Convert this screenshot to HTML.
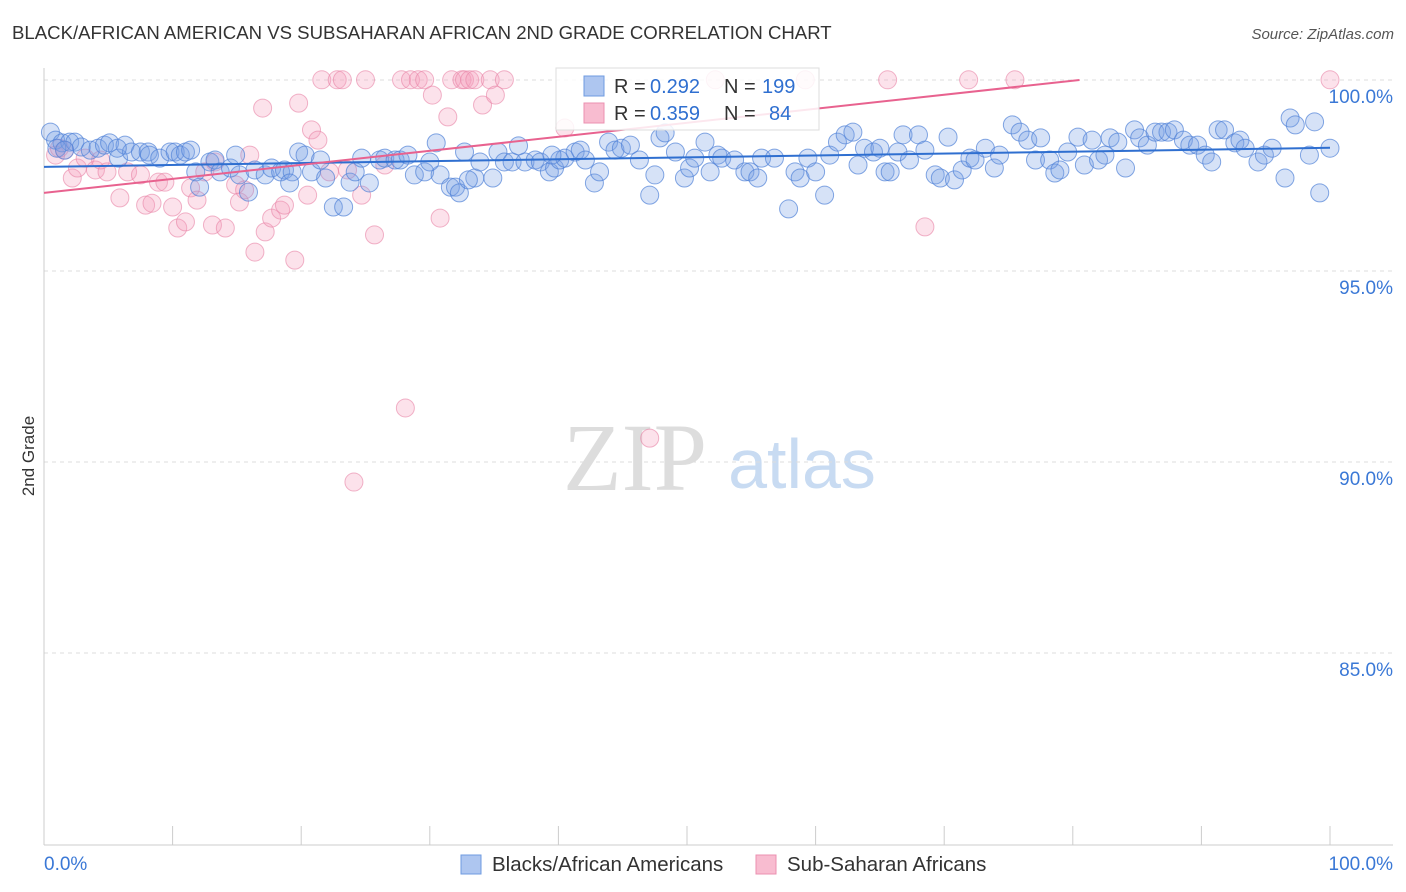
<!DOCTYPE html>
<html><head><meta charset="utf-8">
<style>
body{margin:0;background:#fff;font-family:"Liberation Sans",sans-serif;}
svg{display:block}
</style></head>
<body>
<svg id="chart" width="1406" height="892" viewBox="0 0 1406 892">
<text x="12" y="39" font-size="18.6" fill="#333">BLACK/AFRICAN AMERICAN VS SUBSAHARAN AFRICAN 2ND GRADE CORRELATION CHART</text>
<text x="1394" y="39" font-size="15" fill="#555" font-style="italic" text-anchor="end">Source: ZipAtlas.com</text>
<text x="34" y="456" font-size="17" fill="#333" transform="rotate(-90 34 456)" text-anchor="middle">2nd Grade</text>
<g>
<text x="635" y="490" font-size="96" font-family="Liberation Serif,serif" fill="#ddd" text-anchor="middle">ZIP</text>
<text x="802" y="488" font-size="70" fill="#c8dbf2" text-anchor="middle">atlas</text>
</g>
<g id="grid"></g><g id="axes"></g><g id="pink"></g><g id="blue"></g><g id="lines"></g>
<g>
<rect x="556" y="68" width="263" height="62" fill="#fff" fill-opacity="0.85" stroke="#ddd"/>
<rect x="584" y="76" width="20" height="20" fill="#aec6f0" stroke="#6f9be0"/>
<rect x="584" y="103" width="20" height="20" fill="#f8bcd0" stroke="#eb90b0"/>
<text x="614" y="93" font-size="20" fill="#333">R =</text>
<text x="650" y="93" font-size="20" fill="#2f6fd0">0.292</text>
<text x="724" y="93" font-size="20" fill="#333">N =</text>
<text x="762" y="93" font-size="20" fill="#2f6fd0">199</text>
<text x="614" y="120" font-size="20" fill="#333">R =</text>
<text x="650" y="120" font-size="20" fill="#2f6fd0">0.359</text>
<text x="724" y="120" font-size="20" fill="#333">N =</text>
<text x="769" y="120" font-size="20" fill="#2f6fd0">84</text>
</g>
<g>
<rect x="461" y="855" width="20" height="19" fill="#aec6f0" stroke="#6f9be0"/>
<text x="492" y="871" font-size="20.5" fill="#333">Blacks/African Americans</text>
<rect x="756" y="855" width="20" height="19" fill="#f8bcd0" stroke="#eb90b0"/>
<text x="787" y="871" font-size="20.5" fill="#333">Sub-Saharan Africans</text>
</g>
</svg>
<script>
const blueX=[0.5,0.9,1.4,2.0,2.4,2.9,3.6,4.2,4.7,5.1,5.8,6.3,6.8,7.5,8.1,8.2,9.0,9.8,10.2,10.6,11.0,11.4,11.8,12.1,12.9,13.3,13.7,14.5,14.9,15.2,15.9,16.4,17.2,17.7,18.4,18.7,19.3,19.8,20.3,20.8,21.5,21.9,22.5,23.3,23.8,24.2,24.7,25.3,26.1,26.5,27.3,27.7,28.3,28.8,29.6,30.5,30.8,31.6,32.0,32.3,32.7,33.5,33.9,34.9,35.3,35.8,36.4,36.9,37.4,38.2,38.6,39.3,39.7,40.1,40.5,41.3,41.7,42.1,42.8,43.2,43.9,44.4,44.9,45.6,46.3,47.1,47.5,47.9,48.3,49.1,49.8,50.2,50.6,51.4,51.8,52.4,52.7,53.7,54.5,54.9,55.5,55.8,56.8,57.9,58.4,58.8,59.4,60.0,60.7,61.1,61.7,62.3,62.9,63.3,63.8,64.5,65.0,65.4,65.8,66.4,66.8,67.3,68.0,68.5,69.3,69.7,70.3,70.8,71.4,72.0,72.4,73.2,73.9,74.3,75.3,75.9,76.5,77.1,77.5,78.2,78.6,79.0,79.6,80.4,80.9,81.5,82.0,82.5,82.9,83.5,84.1,84.8,85.2,85.8,86.4,86.9,87.4,87.9,88.6,89.1,89.7,90.3,90.8,91.3,91.8,92.6,93.0,93.4,94.4,94.9,95.5,96.5,96.9,97.3,98.4,98.8,99.2,100,1.0,1.6,5.7,19.1,30.0,33.0,39.5];
const blueY=[99.08,98.87,98.80,98.82,98.82,98.69,98.61,98.66,98.74,98.80,98.40,98.74,98.56,98.56,98.56,98.48,98.40,98.56,98.56,98.48,98.56,98.61,98.04,97.64,98.30,98.35,98.04,98.14,98.48,97.96,97.51,98.09,97.96,98.14,98.04,98.09,98.04,98.56,98.48,98.04,98.35,97.88,97.12,97.12,97.77,98.04,98.40,97.75,98.35,98.40,98.35,98.35,98.48,97.96,98.04,98.80,97.96,97.64,97.64,97.49,98.56,97.88,98.30,97.88,98.56,98.30,98.30,98.72,98.30,98.35,98.30,98.04,98.14,98.35,98.40,98.56,98.61,98.35,97.75,98.04,98.82,98.61,98.66,98.74,98.35,97.43,97.96,98.93,99.06,98.56,97.88,98.14,98.40,98.82,98.04,98.48,98.40,98.35,98.04,98.04,97.88,98.40,98.40,97.07,98.04,97.88,98.40,98.04,97.43,98.48,98.82,99.01,99.08,98.22,98.66,98.56,98.66,98.04,98.04,98.56,99.01,98.35,99.01,98.61,97.96,97.88,98.95,97.83,98.09,98.40,98.35,98.66,98.14,98.48,99.27,99.08,98.87,98.35,98.93,98.35,98.01,98.09,98.56,98.95,98.22,98.87,98.35,98.48,98.93,98.82,98.14,99.14,98.93,98.74,99.08,99.08,99.08,99.14,98.87,98.74,98.74,98.48,98.30,99.14,99.14,98.80,98.87,98.66,98.30,98.48,98.66,97.88,99.45,99.27,98.48,99.35,97.49,98.66,98.66,98.61,98.66,97.75,98.30,97.83,98.48];
const pinkX=[0.9,1.2,1.6,2.2,2.6,3.2,4.0,4.4,4.9,5.9,6.5,7.5,7.9,8.4,8.9,9.4,10.0,10.4,11.0,11.4,11.9,12.5,13.1,13.3,14.1,14.9,15.2,15.6,16.0,16.4,17.0,17.2,17.7,18.4,18.7,19.5,19.8,20.5,20.8,21.3,21.6,22.2,22.8,23.2,23.6,24.1,24.7,25.0,25.7,26.5,27.8,28.1,28.5,29.1,29.6,30.2,30.8,31.4,31.7,32.5,32.7,33.1,33.5,34.1,34.7,35.1,35.8,40.5,47.1,52.2,59.2,65.6,68.5,71.9,75.5,100];
const pinkY=[98.48,98.66,98.61,97.88,98.14,98.40,98.09,98.35,98.04,97.36,98.04,97.96,97.17,97.22,97.77,97.77,97.12,96.57,96.73,97.62,97.30,98.04,96.65,98.30,96.57,97.70,97.25,97.57,98.48,95.94,99.71,96.47,96.83,97.04,97.17,95.73,99.84,97.43,99.14,98.87,100.45,98.04,100.45,100.45,98.09,89.92,97.43,100.45,96.39,98.22,100.45,91.86,100.45,100.45,100.45,100.05,96.83,99.48,100.45,100.45,100.45,100.45,100.45,99.79,100.45,100.05,100.45,99.19,91.07,100.45,100.45,100.45,96.60,100.45,100.45,100.45];
const yTicks=[100,95,90,85];
const yTickLabels=["100.0%","95.0%","90.0%","85.0%"];
const xTicks=[0,10,20,30,40,50,60,70,80,90,100];
const blueTrend=[98.17,98.67];
const pinkTrend=[97.49,101.16];

const NS="http://www.w3.org/2000/svg";
const X0=44,X1=1330,PLOT_TOP=68,PLOT_BOTTOM=845,PLOT_RIGHT=1393;
const xs=v=>X0+(X1-X0)*v/100;
const ys=v=>97+(100-v)*38.2;
function mk(tag,attrs,parent){const e=document.createElementNS(NS,tag);for(const k in attrs)e.setAttribute(k,attrs[k]);parent.appendChild(e);return e;}
const grid=document.getElementById('grid'),axes=document.getElementById('axes');
yTicks.forEach((t,i)=>{
  const gy=ys(t)-17;
  const l=mk('line',{x1:X0,x2:PLOT_RIGHT,y1:gy,y2:gy,stroke:'#ddd','stroke-dasharray':'4,4'},grid);
  
  
  const tx=mk('text',{x:1393,y:ys(t)+6,'font-size':19,fill:'#3a78d6','text-anchor':'end'},axes);
  tx.textContent=yTickLabels[i];
  
  
});
const ax=mk('line',{x1:X0,x2:X0,y1:PLOT_TOP,y2:PLOT_BOTTOM,stroke:'#ccc'},axes);


const bx=mk('line',{x1:X0,x2:PLOT_RIGHT,y1:PLOT_BOTTOM,y2:PLOT_BOTTOM,stroke:'#ccc'},axes);


xTicks.forEach(t=>{
  const l=mk('line',{x1:xs(t),x2:xs(t),y1:826,y2:PLOT_BOTTOM,stroke:'#ccc'},axes);
  
  
});
const xl0=mk('text',{x:44,y:870,'font-size':19,fill:'#3a78d6'},axes);xl0.textContent='0.0%';


const xl1=mk('text',{x:1393,y:870,'font-size':19,fill:'#3a78d6','text-anchor':'end'},axes);xl1.textContent='100.0%';



const pg=document.getElementById('pink');
pinkX.forEach((v,i)=>{
  const c=mk('circle',{cx:xs(v),cy:ys(pinkY[i]),r:9,fill:'rgba(244,160,190,0.3)',stroke:'rgba(232,130,165,0.6)','stroke-width':1},pg);
  
  
});
const bg=document.getElementById('blue');
blueX.forEach((v,i)=>{
  const c=mk('circle',{cx:xs(v),cy:ys(blueY[i]),r:9,fill:'rgba(120,160,230,0.3)',stroke:'rgba(80,130,215,0.7)','stroke-width':1},bg);
  
  
});
const lg=document.getElementById('lines');
const bl=mk('line',{x1:xs(0),y1:ys(blueTrend[0]),x2:xs(100),y2:ys(blueTrend[1]),stroke:'#2f6fd0','stroke-width':2},lg);


const topV=100+17/38.2;
const pEnd=Math.min(100,(topV-pinkTrend[0])/(pinkTrend[1]-pinkTrend[0])*100);
const pl=mk('line',{x1:xs(0),y1:ys(pinkTrend[0]),x2:xs(pEnd),y2:ys(pinkTrend[0]+(pinkTrend[1]-pinkTrend[0])*pEnd/100),stroke:'#e8628f','stroke-width':2},lg);


</script>
</body></html>
